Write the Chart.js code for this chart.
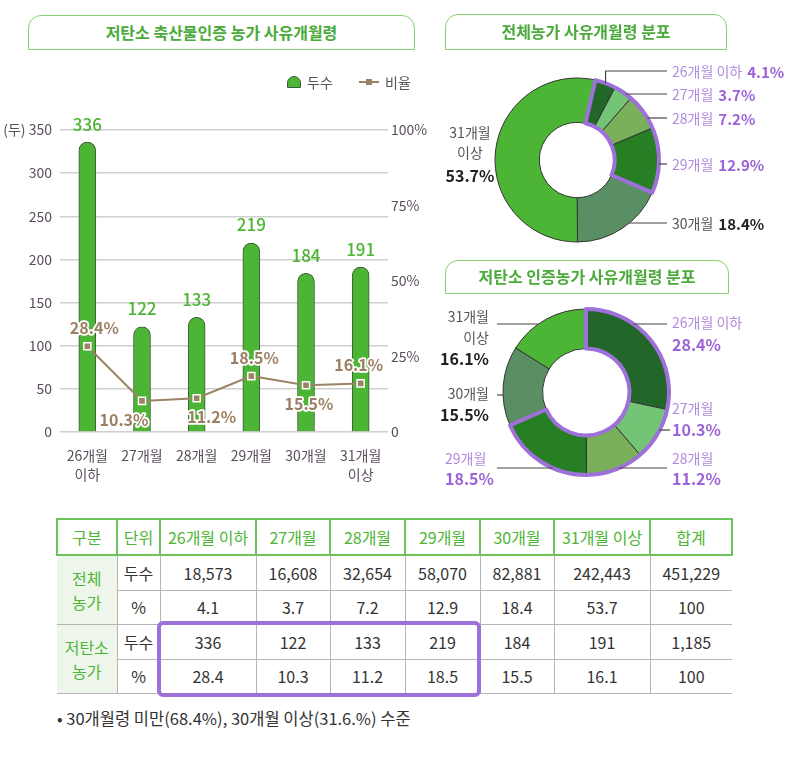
<!DOCTYPE html>
<html>
<head>
<meta charset="utf-8">
<script src="https://cdn.jsdelivr.net/npm/chart.js@4.4.0/dist/chart.umd.min.js"></script>
<style>
  body { margin: 0; width: 789px; height: 757px; background: #fff; position: relative; overflow: hidden;
         font-family: "Noto Sans CJK KR", "Noto Sans", sans-serif; }
  .pos { position: absolute; }
  .title { position: absolute; box-sizing: border-box; border: 1.5px solid #86cf73; border-radius: 13px 13px 0 0;
           color: #4aab3a; font-weight: bold; font-size: 16px; text-align: center; }
  .legend { position: absolute; top: 72px; font-size: 14px; color: #555; line-height: 20px; }
  table { position: absolute; left: 56px; top: 518px; border-collapse: collapse; table-layout: fixed;
          font-size: 16px; color: #333; }
  th, td { text-align: center; padding: 0; }
  th { border: 2px solid #6cc45a; color: #4db535; font-weight: normal; height: 34px; }
  td { border: 1.5px solid #b5b5b5; height: 33.5px; }
  td.grp { background: #eef6ec; color: #4db535; border-left: none; line-height: 24px; }
  td.last { border-right: none; }
  #hl { position: absolute; left: 157px; top: 621px; width: 324px; height: 76px; box-sizing: border-box;
        border: 4px solid #9d70da; border-radius: 6px; }
  #note { position: absolute; left: 57px; top: 706px; font-size: 16.5px; color: #333; }
</style>
</head>
<body>

<div class="pos" style="left:0;top:60px"><canvas id="bar" width="440" height="440"></canvas></div>
<div class="pos" style="left:430px;top:55px"><canvas id="ringAll" width="359" height="210"></canvas></div>
<div class="pos" style="left:430px;top:296px"><canvas id="ringLow" width="359" height="192"></canvas></div>

<div class="title" style="left:28px;top:15px;width:387px;height:35px;line-height:32px">저탄소 축산물인증 농가 사유개월령</div>
<div class="title" style="left:445px;top:14px;width:282px;height:36px;line-height:33px">전체농가 사유개월령 분포</div>
<div class="title" style="left:445px;top:260px;width:284px;height:34px;line-height:31px">저탄소 인증농가 사유개월령 분포</div>

<div class="legend" style="left:287px">
  <span style="position:absolute;left:0;top:4px;width:12px;height:10px;background:#4db535;border:1px solid #3d5c38;border-radius:7px 7px 0 0"></span>
  <span style="position:absolute;left:20px;top:0;white-space:nowrap">두수</span>
</div>
<div class="legend" style="left:359px">
  <span style="position:absolute;left:0;top:9px;width:20px;height:2px;background:#9a8463"></span>
  <span style="position:absolute;left:7px;top:7px;width:6px;height:6px;background:#9a8463"></span>
  <span style="position:absolute;left:26px;top:0;white-space:nowrap">비율</span>
</div>

<table id="tbl"></table>
<div id="hl"></div>
<div id="note">• 30개월령 미만(68.4%), 30개월 이상(31.6.%) 수준</div>

<script>
// data
var categories = [['26개월', '이하'], '27개월', '28개월', '29개월', '30개월', ['31개월', '이상']];
var catNames = ['26개월 이하', '27개월', '28개월', '29개월', '30개월', '31개월 이상'];
var ringNames = [['26개월 이하'], ['27개월'], ['28개월'], ['29개월'], ['30개월'], ['31개월', '이상']];
var lowHeads = [336, 122, 133, 219, 184, 191];
var lowPct = [28.4, 10.3, 11.2, 18.5, 15.5, 16.1];
var allHeads = [18573, 16608, 32654, 58070, 82881, 242443];
var allPct = [4.1, 3.7, 7.2, 12.9, 18.4, 53.7];
var ringColors = ['#22662a', '#74c476', '#79b059', '#267f22', '#5a8f64', '#4db535'];

var FONT = '"Noto Sans CJK KR", "Noto Sans", sans-serif';
Chart.defaults.font.family = FONT;

// ---- bar + line chart ----
var labelBelow = [false, true, true, false, true, false];
var labelDx = [7, -18, 15, 3, 3, -2];

var barLabels = {
  id: 'barLabels',
  afterDatasetsDraw: function (chart) {
    var ctx = chart.ctx;
    var lineMeta = chart.getDatasetMeta(0), barMeta = chart.getDatasetMeta(1);
    ctx.save();
    ctx.textAlign = 'center';
    ctx.textBaseline = 'middle';
    ctx.font = '500 17px ' + FONT;
    ctx.fillStyle = '#4db535';
    barMeta.data.forEach(function (el, i) {
      ctx.fillText(lowHeads[i], el.x, el.y - 18);
    });
    ctx.font = 'bold 16px ' + FONT;
    ctx.lineWidth = 3.5;
    ctx.lineJoin = 'round';
    ctx.strokeStyle = '#fff';
    ctx.fillStyle = '#9b7f62';
    lineMeta.data.forEach(function (el, i) {
      var t = lowPct[i] + '%';
      var x = el.x + labelDx[i];
      var y = el.y + (labelBelow[i] ? 19 : -18);
      ctx.strokeText(t, x, y);
      ctx.fillText(t, x, y);
    });
    ctx.restore();
  }
};

new Chart(document.getElementById('bar'), {
  data: {
    labels: categories,
    datasets: [{
      type: 'line',
      label: '비율',
      data: lowPct,
      yAxisID: 'y1',
      borderColor: '#9a8463',
      borderWidth: 2,
      pointStyle: 'rect',
      pointRadius: 5,
      pointBackgroundColor: '#9a8463',
      pointBorderColor: '#fff',
      pointBorderWidth: 1.5,
      order: 0
    }, {
      type: 'bar',
      label: '두수',
      data: lowHeads,
      yAxisID: 'y',
      backgroundColor: '#4db535',
      borderColor: '#3d5c38',
      borderWidth: 1,
      borderSkipped: 'bottom',
      borderRadius: { topLeft: 9, topRight: 9 },
      barThickness: 17,
      order: 1
    }]
  },
  options: {
    responsive: false,
    animation: false,
    layout: { padding: { top: 70 } },
    plugins: { legend: { display: false }, tooltip: { enabled: false } },
    scales: {
      x: {
        grid: { display: false },
        border: { display: false },
        ticks: { color: '#5a4d5c', padding: 6, font: { size: 14, lineHeight: 1.35 } },
        afterFit: function (s) { s.height = 68; }
      },
      y: {
        position: 'left',
        min: 0, max: 350,
        grid: { color: '#cfcfcf', lineWidth: 1.5, drawTicks: false },
        border: { display: false },
        ticks: {
          stepSize: 50, padding: 8, color: '#5a4d5c', font: { size: 14 },
          callback: function (v) { return v === 350 ? '(두) 350' : v; }
        },
        afterFit: function (s) { s.width = 60; }
      },
      y1: {
        position: 'right',
        min: 0, max: 100,
        grid: { display: false, drawTicks: false },
        border: { display: false },
        ticks: {
          stepSize: 25, padding: 3, color: '#5a4d5c', font: { size: 14 },
          callback: function (v) { return v === 0 ? '0' : v + '%'; }
        },
        afterFit: function (s) { s.width = 52; }
      }
    }
  },
  plugins: [barLabels]
});

// ---- doughnuts ----
function ringPlugin(pcts, specs) {
  return {
    id: 'ringLabels',
    afterDatasetsDraw: function (chart) {
      var ctx = chart.ctx;
      var arcs = chart.getDatasetMeta(0).data;
      var cx = arcs[0].x, cy = arcs[0].y, R = arcs[0].outerRadius, r = arcs[0].innerRadius;
      ctx.save();
      // highlight outline around 26~29 months
      ctx.beginPath();
      ctx.arc(cx, cy, R, arcs[0].startAngle, arcs[3].endAngle);
      ctx.arc(cx, cy, r, arcs[3].endAngle, arcs[0].startAngle, true);
      ctx.closePath();
      ctx.lineWidth = 4;
      ctx.lineJoin = 'round';
      ctx.strokeStyle = '#9d70da';
      ctx.stroke();

      // leader lines
      ctx.strokeStyle = '#444';
      ctx.lineWidth = 1.2;
      specs.forEach(function (s) {
        if (!s.line) return;
        var ly = cy + s.line.dy;
        ctx.beginPath();
        if (s.line.fromMid) {
          var a = (arcs[s.i].startAngle + arcs[s.i].endAngle) / 2;
          var mx = cx + R * Math.cos(a), my = cy + R * Math.sin(a);
          ctx.moveTo(mx, my);
          ctx.lineTo(mx, ly);
          ctx.lineTo(cx + s.line.toDx, ly);
        } else {
          var dy = s.line.dy;
          var ex = Math.sqrt(Math.max(R * R - dy * dy, 0));
          var side = s.line.toDx > 0 ? 1 : -1;
          ctx.moveTo(cx + side * ex, ly);
          ctx.lineTo(cx + s.line.toDx, ly);
        }
        ctx.stroke();
      });

      // texts
      ctx.textBaseline = 'middle';
      specs.forEach(function (s) {
        var hot = s.i < 4;
        var nameColor = hot ? '#b08ade' : '#555';
        var pctColor = hot ? '#9a63d8' : '#222';
        var nameFont = '14px ' + FONT;
        var pctFont = 'bold ' + s.pctSize + 'px ' + FONT;
        var pctText = pcts[s.i].toFixed(1) + '%';
        var rows = [];
        if (s.inline) {
          rows.push([{ t: ringNames[s.i][0], f: nameFont, c: nameColor }, { t: pctText, f: pctFont, c: pctColor }]);
        } else {
          ringNames[s.i].forEach(function (n) { rows.push([{ t: n, f: nameFont, c: nameColor }]); });
          rows.push([{ t: pctText, f: pctFont, c: pctColor }]);
        }
        rows.forEach(function (parts, k) {
          var w = 0;
          parts.forEach(function (p) { ctx.font = p.f; p.w = ctx.measureText(p.t).width; w += p.w; });
          w += 5 * (parts.length - 1);
          var x = cx + s.dx;
          var sx = s.align === 'left' ? x : (s.align === 'right' ? x - w : x - w / 2);
          parts.forEach(function (p) {
            ctx.font = p.f;
            ctx.fillStyle = p.c;
            ctx.textAlign = 'left';
            ctx.fillText(p.t, sx, cy + s.dys[k]);
            sx += p.w + 5;
          });
        });
      });
      ctx.restore();
    }
  };
}

function makeRing(id, pcts, rotation, radius, cutout, padRight, specs) {
  new Chart(document.getElementById(id), {
    type: 'doughnut',
    data: {
      labels: catNames,
      datasets: [{
        data: pcts,
        backgroundColor: ringColors,
        borderColor: '#333',
        borderWidth: 1,
        hoverOffset: 0
      }]
    },
    options: {
      responsive: false,
      animation: false,
      rotation: rotation,
      radius: radius,
      cutout: cutout,
      layout: { padding: { right: padRight } },
      plugins: { legend: { display: false }, tooltip: { enabled: false } }
    },
    plugins: [ringPlugin(pcts, specs)]
  });
}

makeRing('ringAll', allPct, 13, 82, 48, 65, [
  { i: 0, align: 'left', dx: 95, inline: true, pctSize: 15, dys: [-88], line: { dy: -89, toDx: 90, fromMid: true } },
  { i: 1, align: 'left', dx: 95, inline: true, pctSize: 15, dys: [-65], line: { dy: -66, toDx: 90 } },
  { i: 2, align: 'left', dx: 95, inline: true, pctSize: 15, dys: [-41], line: { dy: -42, toDx: 90 } },
  { i: 3, align: 'left', dx: 95, inline: true, pctSize: 15, dys: [5], line: { dy: 4, toDx: 90 } },
  { i: 4, align: 'left', dx: 95, inline: true, pctSize: 15, dys: [64], line: { dy: 63, toDx: 90 } },
  { i: 5, align: 'center', dx: -107, pctSize: 16, dys: [-27, -7, 16] }
]);

makeRing('ringLow', lowPct, 0, 83, 50, 47, [
  { i: 0, align: 'left', dx: 86, pctSize: 16, dys: [-69, -47], line: { dy: -68, toDx: 81 } },
  { i: 1, align: 'left', dx: 86, pctSize: 16, dys: [17, 38], line: { dy: 38, toDx: 84 } },
  { i: 2, align: 'left', dx: 86, pctSize: 16, dys: [67, 87], line: { dy: 76, toDx: 81 } },
  { i: 3, align: 'left', dx: -141, pctSize: 16, dys: [67, 87], line: { dy: 76, toDx: -89 } },
  { i: 4, align: 'right', dx: -97, pctSize: 16, dys: [2, 23], line: { dy: 3, toDx: -89 } },
  { i: 5, align: 'right', dx: -97, pctSize: 16, dys: [-75, -54, -33], line: { dy: -68, toDx: -89 } }
]);

// ---- table ----
function sum(a) { return a.reduce(function (s, v) { return s + v; }, 0); }
function fmt(n) { return n.toLocaleString('en-US'); }
var colW = [60, 43, 96, 74, 75, 75, 74, 96, 82];
var html = '<colgroup>' + colW.map(function (w) { return '<col style="width:' + w + 'px">'; }).join('') + '</colgroup>';
html += '<tr>' + ['구분', '단위'].concat(catNames, ['합계']).map(function (h) { return '<th>' + h + '</th>'; }).join('') + '</tr>';
function rowHtml(group, unit, vals, total) {
  var s = '<tr>';
  if (group) s += '<td class="grp" rowspan="2">' + group + '</td>';
  s += '<td>' + unit + '</td>';
  vals.forEach(function (v) { s += '<td>' + v + '</td>'; });
  s += '<td class="last">' + total + '</td></tr>';
  return s;
}
html += rowHtml('전체<br>농가', '두수', allHeads.map(fmt), fmt(sum(allHeads)));
html += rowHtml(null, '%', allPct.map(function (v) { return v.toFixed(1); }), Math.round(sum(allPct)));
html += rowHtml('저탄소<br>농가', '두수', lowHeads.map(fmt), fmt(sum(lowHeads)));
html += rowHtml(null, '%', lowPct.map(function (v) { return v.toFixed(1); }), Math.round(sum(lowPct)));
document.getElementById('tbl').innerHTML = html;
</script>
</body>
</html>
